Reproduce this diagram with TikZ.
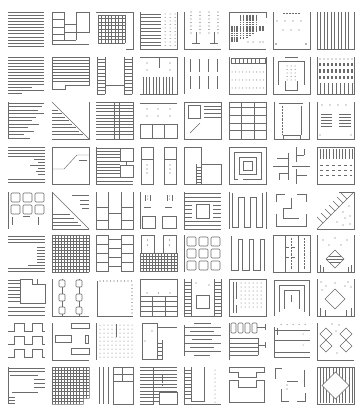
\documentclass[tikz,border=0pt]{standalone}
\usepackage{tikz}

\begin{document}
\begin{tikzpicture}[
        x=1pt, y=-1pt,
        line width=0.45pt, color=black!58,
        thickbar/.style={line width=1.1pt, dash pattern=on 1.6pt off 0.6pt},
        cell/.style={rounded corners=1pt, line width=0.6pt}
      ]
      \fill[white] (0,0) rectangle (356,406);
      % row 1
      \begin{scope}[shift={(8,12)}]
        \foreach \y in {0,3.1,...,37} \draw (0,\y) -- (36,\y);
      \end{scope}
      \begin{scope}[shift={(52,12)}]
        \draw (0,0) -- (0,32) -- (37,32);
        \draw (0,0) -- (12,0) -- (12,28) (0,7) -- (12,7) (0,15) -- (12,15) (0,22) -- (12,22) (0,28) -- (24,28);
        \draw (12,12) -- (24,12) -- (24,28) (12,20) -- (24,20);
        \draw (24,0) -- (37,0) -- (37,20) -- (24,20) -- cycle;
      \end{scope}
      \begin{scope}[shift={(96,12)}]
        \draw (0,0) -- (37,0) -- (37,37) -- (30,37);
        \foreach \i in {0,...,8} {
          \draw ({2+3.4*\i},3) -- ({2+3.4*\i},31);
          \draw (2,{3+3.5*\i}) -- (29.2,{3+3.5*\i});
        }
      \end{scope}
      \begin{scope}[shift={(140,12)}]
        \draw (0,0) -- (0,37) -- (37,37) -- (37,0);
        \foreach \y in {2,5.5,...,34} {
          \draw (0,\y) -- (21,\y);
          \foreach \x in {25,30,35} \fill (\x,\y) circle (0.5pt);
        }
      \end{scope}
      \begin{scope}[shift={(184,12)}]
        \draw (0,0) -- (0,37) -- (37,37);
        \foreach \x in {7,16,25,34} \foreach \y in {0,3.5,...,21} \fill (\x,\y) circle (0.55pt);
        \foreach \x in {12,30} \draw (\x,20) -- (\x,31) ({\x-4},31) -- ({\x+4},31);
      \end{scope}
      \begin{scope}[shift={(229,12)}]
        \draw (37,6) -- (37,0) -- (0,0) -- (0,37) -- (37,37);
        \foreach \x in {3,5.5,8} \draw[thickbar] (\x,14) -- (\x,30);
        \foreach \x/\b in {11.5/27, 14.5/27, 18/26, 21/24, 24/22, 27.5/20} \draw[thickbar] (\x,3) -- (\x,\b);
        \foreach \x in {31,34} \draw[thickbar] (\x,14) -- (\x,19);
        \foreach \x in {19,24,31,34} \fill (\x,30) circle (0.6pt);
      \end{scope}
      \begin{scope}[shift={(273,12)}]
        \draw (0,0) -- (0,37) -- (37,37) -- (37,0);
        \draw[densely dotted] (10,1) -- (26,1);
        \foreach \x in {4,12,20,28} \fill (\x,9) circle (0.55pt);
        \foreach \x in {10,18,26} \fill (\x,18) circle (0.55pt);
        \fill (3,32) circle (0.8pt) (33,32) circle (0.8pt);
      \end{scope}
      \begin{scope}[shift={(317,12)}]
        \draw (0,0) -- (0,37) -- (37,37) -- (37,0);
        \foreach \x in {3.5,7,...,34} \draw (\x,0) -- (\x,37);
      \end{scope}
      % row 2
      \begin{scope}[shift={(8,57)}]
        \foreach \y in {0,3,...,27} \draw (0,\y) -- (36,\y);
        \draw (0,30) -- (24,30) (0,33) -- (36,33) (0,36) -- (14,36);
      \end{scope}
      \begin{scope}[shift={(52,57)}]
        \draw (0,32) -- (0,0) -- (37,0) -- (37,28) -- (13,28) -- (13,32) -- cycle;
        \foreach \y in {3,6,...,25} \draw (0,\y) -- (37,\y);
      \end{scope}
      \begin{scope}[shift={(96,57)}]
        \draw (1,0) -- (1,37) (9,0) -- (9,37) (28,0) -- (28,37) (36,0) -- (36,37);
        \draw (9,28) -- (28,28);
        \foreach \y in {2,5.5,...,37} \draw (1,\y) -- (9,\y) (28,\y) -- (36,\y);
      \end{scope}
      \begin{scope}[shift={(140,57)}]
        \draw (0,0) -- (37,0) -- (37,37) -- (0,37);
        \draw (19,0) -- (19,11);
        \foreach \x in {7,30} \fill (\x,6) circle (0.55pt) (\x,13) circle (0.55pt);
        \foreach \x in {3,6.3,...,35} \draw (\x,20) -- (\x,37);
      \end{scope}
      \begin{scope}[shift={(184,57)}]
        \draw (0,0) -- (0,37);
        \foreach \x in {6,15,24,33} \draw (\x,2) -- (\x,15) (\x,19) -- (\x,32);
      \end{scope}
      \begin{scope}[shift={(229,57)}]
        \draw (0,0) -- (0,37) -- (37,37) -- (37,0);
        \draw (2,1) rectangle (36,6);
        \foreach \x in {6,10,...,33} \draw (\x,1) -- (\x,6);
        \foreach \y in {15,23,31} \foreach \x in {3,6.5,...,35} \fill (\x,\y) circle (0.5pt);
      \end{scope}
      \begin{scope}[shift={(273,57)}]
        \draw (0,0) -- (0,37) -- (37,37) -- (37,0);
        \draw (12,0) -- (25,0);
        \draw (5,28) -- (5,4) -- (31,4) -- (31,28);
        \draw (12,24) -- (12,33) -- (24,33) -- (24,24);
        \foreach \x in {14,18,22} \foreach \y in {9,12.5,...,23} \fill (\x,\y) circle (0.5pt);
      \end{scope}
      \begin{scope}[shift={(317,57)}]
        \draw (0,0) -- (0,37) -- (37,37) -- (37,0);
        \foreach \x in {3,7,...,35} {
          \fill (\x,2) circle (0.55pt);
          \draw[thickbar] (\x,6) -- (\x,9) (\x,12) -- (\x,16) (\x,19) -- (\x,22);
          \draw (\x,26) -- (\x,37);
        }
      \end{scope}
      % row 3
      \begin{scope}[shift={(8,102)}]
        \draw (0,0) -- (0,37);
        \foreach \y/\l in {1/36, 4.5/34, 8/30, 11.5/36, 15/28, 18.5/24, 22/31, 25.5/20, 29/26, 32.5/16, 36/22}
          \draw (0,\y) -- (\l,\y);
      \end{scope}
      \begin{scope}[shift={(52,102)}]
        \draw (37,0) -- (37,37) -- (0,37);
        \draw (0,0) -- (37,37);
        \foreach \y in {8,11.5,...,34} \draw (0,\y) -- ({\y-2},\y);
      \end{scope}
      \begin{scope}[shift={(96,102)}]
        \draw (0,0) -- (37,0) -- (37,37) -- (0,37);
        \foreach \y in {3.2,6.4,...,34} \draw (0,\y) -- (37,\y);
        \draw (18,0) -- (18,37) (23,0) -- (23,37);
      \end{scope}
      \begin{scope}[shift={(140,102)}]
        \draw (0,1) -- (37,1);
        \foreach \x in {7,18,30} \fill (\x,7) circle (0.55pt) (\x,14) circle (0.55pt);
        \draw (0,22) rectangle (37,36) (12,22) -- (12,36) (24.5,22) -- (24.5,36);
      \end{scope}
      \begin{scope}[shift={(184,102)}]
        \draw (0,0) rectangle (37,37);
        \draw (4,3) rectangle (16,16);
        \foreach \y in {4,7.5,11,15} \draw (20,\y) -- (37,\y);
        \draw (6,31) -- (16,21);
      \end{scope}
      \begin{scope}[shift={(229,102)}]
        \draw (0,0) rectangle (37,37);
        \draw (12,0) -- (12,37) (25,0) -- (25,37);
        \foreach \y in {5,13,21,28} \draw (0,\y) -- (37,\y);
      \end{scope}
      \begin{scope}[shift={(273,102)}]
        \draw (1,0) -- (1,37) -- (36,37) -- (36,0);
        \draw (6,1) -- (30,1);
        \draw[densely dotted] (9,4) -- (9,33);
        \draw (28,4) -- (28,33);
        \draw (10,33) rectangle (27,37);
      \end{scope}
      \begin{scope}[shift={(317,102)}]
        \draw (0,0) -- (0,37) -- (37,37) -- (37,0);
        \foreach \x in {5,13,21,29} \fill (\x,3) circle (0.55pt);
        \foreach \y in {12,15,18,21,24} \draw (4,\y) -- (15,\y) (22,\y) -- (34,\y);
        \fill (3,33) circle (0.7pt) (34,33) circle (0.7pt);
      \end{scope}
      % row 4
      \begin{scope}[shift={(8,147)}]
        \foreach \y in {0,3,6,9} \draw (0,\y) -- (37,\y);
        \foreach \y/\a in {12/26, 15/30, 18/22, 21/30, 24/28, 27/30} \draw (\a,\y) -- (37,\y);
        \foreach \y in {32,35} \draw (0,\y) -- (37,\y);
      \end{scope}
      \begin{scope}[shift={(52,147)}]
        \draw (0,0) rectangle (37,37);
        \draw (0,22) -- (12,22) -- (25,8) -- (37,8);
        \draw (27,13) -- (35,13);
      \end{scope}
      \begin{scope}[shift={(96,147)}]
        \draw (0,0) -- (0,37) -- (37,37);
        \foreach \y in {1,4.2,...,31} \draw (0,\y) -- (24,\y);
        \draw (24,1) rectangle (37,14) (24,18) rectangle (37,30) (30,14) -- (30,18);
        \draw (0,34) -- (37,34);
      \end{scope}
      \begin{scope}[shift={(140,147)}]
        \draw (1,0) rectangle (13,37) (24,0) rectangle (36,37);
        \draw (1,12) -- (13,12) (24,12) -- (36,12);
        \foreach \x in {7,30} \foreach \y in {18,22,26} \fill (\x,\y) circle (0.55pt);
      \end{scope}
      \begin{scope}[shift={(184,147)}]
        \draw (0,0) -- (0,37) -- (37,37) -- (37,17) -- (17,17);
        \draw (0,0) -- (17,0) -- (17,37) (12,17) -- (12,37);
        \foreach \y in {20,23,...,35} \draw (12,\y) -- (17,\y);
      \end{scope}
      \begin{scope}[shift={(229,147)}]
        \draw (0,0) rectangle (37,37);
        \draw (9,32) -- (5,32) -- (5,5) -- (32,5) -- (32,32) -- (14,32);
        \draw (10,10) rectangle (27,27) (14,14) rectangle (23,23);
      \end{scope}
      \begin{scope}[shift={(273,147)}]
        \draw (0,19) -- (15,19) (19,19) -- (37,19);
        \draw (15,6) -- (15,33) (23,0) -- (23,15) (23,22) -- (23,37);
        \draw (4,11) -- (15,11) (23,28) -- (34,28) (6,26) -- (15,26) (23,8) -- (31,8);
        \draw (31,2) -- (31,8) (6,26) -- (6,33);
      \end{scope}
      \begin{scope}[shift={(317,147)}]
        \draw (0,0) rectangle (37,37);
        \foreach \x in {3,6.2,...,35} \draw (\x,2) -- (\x,12);
        \foreach \y in {18,23,28} \draw[dashed] (3,\y) -- (35,\y);
      \end{scope}
      % row 5
      \begin{scope}[shift={(8,192)}]
        \draw (0,0) -- (0,37);
        \foreach \x in {3,15,27} \foreach \y in {1,13} \draw[cell] (\x,\y) rectangle ++(9,9);
        \draw (4,25) -- (4,33) (30,25) -- (30,33) (15,24) -- (22,24);
      \end{scope}
      \begin{scope}[shift={(52,192)}]
        \draw (0,0) -- (0,37) -- (37,37);
        \draw (0,0) -- (37,37);
        \foreach \y in {22,26,30,33} \draw (0,\y) -- ({\y-4},\y);
        \draw (20,3) -- (37,3) (28,8) -- (37,8) (28,12) -- (37,12) (30,16) -- (37,16);
      \end{scope}
      \begin{scope}[shift={(96,192)}]
        \draw (0,0) -- (0,37) -- (37,37) -- (37,0);
        \draw (12,0) -- (12,37) (25,0) -- (25,37);
        \draw (0,15) -- (12,15) (25,15) -- (37,15) (12,21) -- (25,21) (0,28) -- (12,28) (25,28) -- (37,28);
      \end{scope}
      \begin{scope}[shift={(140,192)}]
        \draw (0,0) -- (0,37);
        \foreach \x in {5,27} \draw (\x,3) -- (\x,9) ({\x+5},3) -- ({\x+5},9);
        \foreach \x in {7.5,29.5} \fill (\x,4) circle (0.5pt) (\x,7) circle (0.5pt);
        \draw (4,15) -- (11,15) (25,15) -- (32,15);
        \draw (2,24) rectangle (15,36) (22,24) rectangle (36,36);
      \end{scope}
      \begin{scope}[shift={(184,192)}]
        \draw (0,0) -- (0,37);
        \foreach \y in {1,5,9,29,33,37} \draw (0,\y) -- (37,\y);
        \foreach \y in {13,17,21,25} \draw (0,\y) -- (8,\y) (29,\y) -- (37,\y);
        \draw (12,12) rectangle (25,26);
      \end{scope}
      \begin{scope}[shift={(229,192)}]
        \draw (0,0) -- (0,37) (37,0) -- (37,37);
        \draw (3,1) -- (3,35) -- (9,35) -- (9,5) -- (15,5) -- (15,35) -- (21,35) -- (21,5) -- (27,5)
              -- (27,35) -- (33,35) -- (33,1);
      \end{scope}
      \begin{scope}[shift={(273,192)}]
        \draw (12,2) -- (3,2) -- (3,10);
        \draw (24,2) -- (33,2) -- (33,10);
        \draw (18,6) -- (18,16) -- (10,16) -- (10,26) -- (26,26);
        \draw (3,22) -- (3,34) -- (33,34) -- (33,22);
      \end{scope}
      \begin{scope}[shift={(317,192)}]
        \draw (0,37) -- (37,37) -- (37,0) -- (22,0);
        \draw (0,37) -- (37,0);
        \foreach \t in {6,10,...,30} \draw (\t,{37-\t}) -- ({\t-6},{31-\t});
        \foreach \x/\y in {26/20, 32/14, 20/30, 28/26, 33/24, 33/32, 26/33} \fill (\x,\y) circle (0.55pt);
      \end{scope}
      % row 6
      \begin{scope}[shift={(8,235)}]
        \foreach \y in {1,4,7} \draw (0,\y) -- (37,\y);
        \foreach \y in {12,15,...,27} \draw (29,\y) -- (37,\y);
        \draw (20,30) -- (37,30);
        \foreach \y in {33,36} \draw (0,\y) -- (37,\y);
      \end{scope}
      \begin{scope}[shift={(52,235)}]
        \foreach \i in {0,...,12} \draw ({3.08*\i},0) -- ({3.08*\i},37) (0,{3.08*\i}) -- (37,{3.08*\i});
      \end{scope}
      \begin{scope}[shift={(96,235)}]
        \draw (0,0) -- (0,37) (12,0) -- (12,37) (25,0) -- (25,37) (37,0) -- (37,37);
        \foreach \y in {0,9,18,27,36} \draw (0,\y) -- (12,\y) (25,\y) -- (37,\y);
        \foreach \y in {4,13,22,31} \draw (12,\y) -- (25,\y);
      \end{scope}
      \begin{scope}[shift={(140,235)}]
        \draw (1,0) rectangle (14,18) (23,0) rectangle (36,18);
        \foreach \x in {7.5,29.5} \fill (\x,5) circle (0.55pt) (\x,10) circle (0.55pt);
        \foreach \i in {0,...,12} \draw ({3.08*\i},18) -- ({3.08*\i},37);
        \foreach \y in {18,21,...,37} \draw (0,\y) -- (37,\y);
      \end{scope}
      \begin{scope}[shift={(184,235)}]
        \draw (0,0) -- (0,37);
        \foreach \x in {3,15,27} \foreach \y in {2,14,26} \draw[cell] (\x,\y) rectangle ++(9,9);
      \end{scope}
      \begin{scope}[shift={(229,235)}]
        \draw (2,1) -- (2,35) -- (9,35) -- (9,4) -- (13,4) -- (13,35) -- (20,35) -- (20,4) -- (24,4)
              -- (24,35) -- (31,35) -- (31,4) -- (35,4) -- (35,36);
      \end{scope}
      \begin{scope}[shift={(273,235)}]
        \draw (0,0) rectangle (37,37);
        \draw (12,0) -- (12,37) (25,0) -- (25,37);
        \draw[densely dotted] (18.5,3) -- (18.5,34) (31,3) -- (31,34);
        \draw[dashed] (13,12) -- (24,12) (13,22) -- (24,22);
      \end{scope}
      \begin{scope}[shift={(317,235)}]
        \draw (0,0) -- (0,37) -- (37,37) -- (37,0);
        \draw (18,15) -- (27,24) -- (18,33) -- (9,24) -- cycle;
        \draw (12,21) -- (24,21) (9,24) -- (27,24) (12,27) -- (24,27);
        \foreach \x/\y in {6/5, 18/3, 30/5, 12/10, 24/10} \fill (\x,\y) circle (0.6pt);
        \draw (3,30) -- (3,37) (6,32) -- (6,37) (31,32) -- (31,37) (34,30) -- (34,37);
      \end{scope}
      % row 7
      \begin{scope}[shift={(8,279)}]
        \foreach \y in {1,4.5,...,23} \draw (0,\y) -- (12,\y);
        \draw (12,0) -- (24,0) -- (24,5) -- (37,5) -- (37,24) -- (12,24) -- cycle;
        \draw (29,0) -- (29,5);
        \foreach \y in {28,32,36} \draw (0,\y) -- (37,\y);
      \end{scope}
      \begin{scope}[shift={(52,279)}]
        \draw (0,0) -- (0,37) -- (37,37);
        \foreach \x in {10,27} {
          \draw (\x,0) -- (\x,37);
          \foreach \y in {1,15,28} \draw[cell, fill=white] ({\x-3},\y) rectangle ++(6,7);
        }
      \end{scope}
      \begin{scope}[shift={(96,279)}]
        \draw (1,2) -- (1,37) -- (37,37);
        \foreach \x in {4,7.5,...,37} \fill (\x,2) circle (0.55pt);
        \foreach \y in {6,9.5,...,34} \fill (36,\y) circle (0.55pt);
      \end{scope}
      \begin{scope}[shift={(140,279)}]
        \draw (0,0) rectangle (37,37);
        \draw (0,17) -- (37,17);
        \foreach \x in {7,18.5,30} \fill (\x,14) circle (0.7pt);
        \draw (12,17) -- (12,37) (25,17) -- (25,37);
        \foreach \y in {22,27,32} \draw (0,\y) -- (37,\y);
      \end{scope}
      \begin{scope}[shift={(184,279)}]
        \draw (0,0) -- (0,37) -- (37,37) -- (37,0) (7,0) -- (7,37) (30,0) -- (30,37);
        \foreach \y in {3,6.5,...,35} \draw (0,\y) -- (7,\y) (30,\y) -- (37,\y);
        \draw (12,16) rectangle (25,29);
        \fill (25,6) circle (0.6pt) (12,4) circle (0.6pt);
      \end{scope}
      \begin{scope}[shift={(229,279)}]
        \draw (0,0) rectangle (37,37);
        \draw (4,3) -- (4,34) (7,3) -- (7,20) (7,26) -- (7,34);
        \foreach \x in {12,16,...,32} \foreach \y in {4,8,...,28} \fill (\x,\y) circle (0.5pt);
      \end{scope}
      \begin{scope}[shift={(273,279)}]
        \draw (1,37) -- (1,1) -- (36,1) -- (36,37);
        \draw (6,33) -- (6,6) -- (31,6) -- (31,33);
        \draw (11,30) -- (11,11) -- (26,11) -- (26,30);
        \draw (18.5,16) -- (18.5,23);
      \end{scope}
      \begin{scope}[shift={(317,279)}]
        \draw (0,0) -- (0,37) -- (37,37) -- (37,0);
        \draw (18,10) -- (28,20) -- (18,30) -- (8,20) -- cycle;
        \foreach \x/\y in {4/3, 9/7, 5/11, 31/3, 34/8, 28/7, 18/4} \fill (\x,\y) circle (0.6pt);
        \draw (3,29) -- (3,37) (8,31) -- (8,37) (29,31) -- (29,37) (34,29) -- (34,37);
      \end{scope}
      % row 8
      \begin{scope}[shift={(8,323)}]
        \foreach \y in {0,13,26}
          \draw (0,{\y+8}) -- (6,{\y+8}) -- (6,\y) -- (16,\y) -- (16,{\y+8}) -- (24,{\y+8}) -- (24,\y)
                -- (34,\y) -- (34,{\y+8}) -- (37,{\y+8});
      \end{scope}
      \begin{scope}[shift={(52,323)}]
        \draw (0,0) -- (0,37) -- (37,37);
        \draw (19,0) rectangle (37,5) (3,12) rectangle (19,19) (33,12) rectangle (36,20) (19,25) rectangle (37,31);
      \end{scope}
      \begin{scope}[shift={(96,323)}]
        \draw (0,0) -- (0,37);
        \foreach \x in {4,8,...,36} \foreach \y in {2,6,...,36} \fill (\x,\y) circle (0.5pt);
        \draw (20,1) -- (20,14);
      \end{scope}
      \begin{scope}[shift={(140,323)}]
        \draw (2,0) rectangle (17,36);
        \fill (12,8) circle (0.7pt) (5,18) circle (0.7pt);
        \draw (17,4) -- (37,4);
        \draw (22,17) -- (22,36) -- (17,36);
        \foreach \y in {20,24,28,32} \draw (17,\y) -- (22,\y);
      \end{scope}
      \begin{scope}[shift={(184,323)}]
        \draw (0,2) -- (0,33);
        \foreach \y/\a/\b in {0/10/27, 4/0/37, 8/6/30, 12/0/37, 16/8/28, 20/0/37, 24/6/30, 28/0/37, 32/10/26}
          \draw (\a,\y) -- (\b,\y);
      \end{scope}
      \begin{scope}[shift={(229,323)}]
        \draw (0,0) -- (0,37);
        \foreach \x in {2,9,16,23} \draw[cell] (\x,0) rectangle ++(5,10);
        \draw (28,4) -- (36,4) (36,1) -- (36,7);
        \foreach \y in {15,20,24,28,32} \draw (1,\y) -- (29,\y);
        \draw (29,15) -- (29,32) (29,22) -- (36,22) (36,19) -- (36,25);
      \end{scope}
      \begin{scope}[shift={(273,323)}]
        \draw (1,4) -- (1,34) (4,5) -- (4,12);
        \foreach \y in {7,17,29} \draw (1,\y) -- (37,\y);
        \draw (1,34) -- (37,34);
        \foreach \x in {8,14,...,36} \fill (\x,1.5) circle (0.5pt);
        \foreach \y in {11,22} \fill (30,\y) circle (0.5pt);
      \end{scope}
      \begin{scope}[shift={(317,323)}]
        \draw (0,0) -- (0,37) -- (37,37);
        \foreach \x/\y in {9/11, 29/11, 9/23, 29/23}
          \draw (\x,{\y-6}) -- ({\x+6},\y) -- (\x,{\y+6}) -- ({\x-6},\y) -- cycle;
        \foreach \x/\y in {15/1, 22/2, 19/8, 20/30} \fill (\x,\y) circle (0.6pt);
      \end{scope}
      % row 9
      \begin{scope}[shift={(8,367)}]
        \draw (0,0) -- (0,37);
        \foreach \y in {1,4} \draw (0,\y) -- (37,\y);
        \draw (2,8) -- (30,8);
        \foreach \y in {12,16,20} \draw (26,\y) -- (37,\y);
        \draw (4,25) -- (30,25);
        \foreach \y in {30,33,36} \draw (0,\y) -- (7,\y);
      \end{scope}
      \begin{scope}[shift={(52,367)}]
        \clip (-0.5,-0.5) -- (37.5,-0.5) -- (37.5,31.5) -- (31.5,31.5) -- (31.5,37.5) -- (-0.5,37.5) -- cycle;
        \foreach \i in {0,...,12} \draw ({3.08*\i},0) -- ({3.08*\i},37) (0,{3.08*\i}) -- (37,{3.08*\i});
      \end{scope}
      \begin{scope}[shift={(96,367)}]
        \draw (3,0) -- (3,37) (7,0) -- (7,37) (12,0) -- (12,37);
        \draw (17,0) rectangle (37,37);
        \draw (26,0) -- (26,14) (17,7) -- (37,7) (17,14) -- (37,14);
      \end{scope}
      \begin{scope}[shift={(140,367)}]
        \foreach \y in {0,3.4,...,34} \draw (0,\y) -- (37,\y);
        \draw (13,0) -- (13,37) -- (0,37);
        \draw[densely dotted] (22,8) -- (22,20);
        \draw[fill=white] (19,25) rectangle (37,37);
      \end{scope}
      \begin{scope}[shift={(184,367)}]
        \draw (0,0) -- (0,37) -- (37,37);
        \draw (7,0) -- (7,34) -- (20,34) -- (20,0);
        \foreach \y in {3,6.5,...,34} \draw (0,\y) -- (7,\y);
        \foreach \y in {3,7,...,35} \fill (31,\y) circle (0.5pt);
      \end{scope}
      \begin{scope}[shift={(229,367)}]
        \draw (0,0) -- (35,0) -- (35,5) -- (27,5) -- (27,10) -- (9,10) -- (9,5) -- (0,5) -- cycle;
        \draw (0,13) -- (9,13) -- (9,20) -- (27,20) -- (27,13) -- (35,13) -- (35,35) -- (0,35) -- cycle;
      \end{scope}
      \begin{scope}[shift={(273,367)}]
        \draw (9,1) -- (2,1) -- (2,12);
        \draw (14,14) -- (25,14);
        \draw (31,3) -- (31,20);
        \draw (8,22) -- (8,34) -- (16,34);
        \draw (32,26) -- (32,34) -- (24,34);
        \foreach \y in {18,22} \fill (14,\y) circle (0.6pt);
      \end{scope}
      \begin{scope}[shift={(317,367)}]
        \draw (0,0) rectangle (37,37);
        \foreach \x in {3,6.2,...,35} \draw (\x,1) -- (\x,36);
        \draw[fill=white] (18.5,5) -- (32,18.5) -- (18.5,32) -- (5,18.5) -- cycle;
      \end{scope}
    \end{tikzpicture}
\end{document}
